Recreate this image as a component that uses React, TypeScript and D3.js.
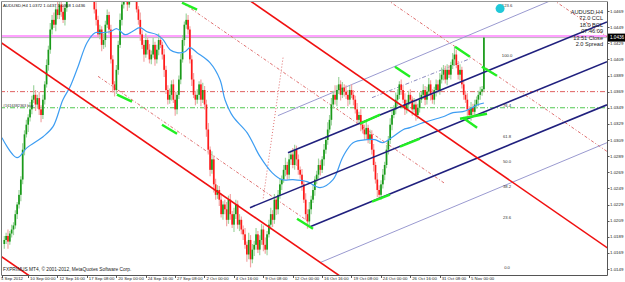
import React from 'react';
import * as d3 from 'd3';

const W = 625;
const H = 282;
const PLOT_R = 607;
const PLOT_B = 275;

// candle closes, in pips above 1.0000 (H4 bars, 5 Sep 16:00 .. 5 Nov)
const firstOpenPips = 180;
const closePips = [
  185,190,183,193,198, 203,217,229,241,260, 297,316,328,337,347, 359,365,353,361,347,
  340,359,378,402,421, 446,458,452,471,464, 477,468,458,473,489, 508,533,557,582,595,
  607,619,601,588,595, 570,557,533,508,471, 458,440,446,427,433, 452,464,446,409,378,
  371,396,427,458,477, 489,502,477,495,508, 514,495,471,458,440, 427,415,433,421,409,
  415,427,409,421,433, 427,415,396,371,359, 365,378,359,347,365, 384,409,433,452,458,
  446,409,384,365,359, 365,378,359,371,353, 322,297,272,285,254, 241,247,235,217,229,
  223,210,235,217,204, 217,229,204,210,198, 192,179,167,185,161, 173,179,192,173,185,
  198,179,173,192,204, 217,210,235,223,241, 254,260,272,278,266, 285,291,278,297,285,
  272,266,254,235,217, 208,223,235,247,260, 266,278,272,285,297, 309,322,334,353,365,
  359,371,378,365,374, 369,365,359,371,365, 359,347,334,340,328, 322,316,324,309,316,
  297,278,260,247,241, 254,266,278,297,309, 328,340,347,359,365, 378,371,359,347,353,
  365,359,347,353,340, 349,359,365,371,359, 369,378,365,359,371, 378,371,384,390,396,
  384,396,390,402,409, 415,402,390,396,378, 365,359,347,340,349, 344,353,359,365,369,
  372,436,
];
const upWick = [
  5,4,8,3,6,4,5,3,6,4, 8,5,6,4,9,5,12,6,4,8, 5,6,4,7,5,8,6,9,4,10, 6,5,8,4,6,5,7,4,6,5,
  8,4,6,5,7,4,5,6,4,5, 9,5,6,4,8,5,7,4,6,5, 4,6,5,8,5,10,6,4,7,5, 8,5,6,4,9,5,6,8,4,7,
  5,9,4,6,8,5,4,7,5,6, 8,5,6,10,4,5,7,6,4,8, 6,4,5,8,5,7,4,6,9,5, 6,8,4,10,5,7,6,5,8,4,
  6,9,5,7,4,8,6,5,7,4, 5,8,4,9,6,7,5,8,4,6, 7,5,9,4,6,8,5,7,4,6, 8,5,6,9,4,7,5,8,6,5,
  6,4,7,5,8,6,9,5,7,4, 5,8,6,4,7,5,9,6,8,5, 12,6,9,5,7,4,8,6,5,7, 6,5,8,4,7,5,6,9,4,6,
  5,7,4,8,6,5,7,4,6,5, 8,6,5,9,7,4,6,5,8,6, 5,7,4,8,6,5,9,4,7,5, 6,8,5,7,4,6,5,8,9,6,
  5,7,6,4,8,10,6,5,7,4, 6,5,8,4,7,5,6,4,5,6, 4,1,
];
const dnWick = [
  6,5,9,4,5,7,4,6,5,8, 6,7,4,9,5,6,4,8,5,7, 9,5,6,4,7,5,6,4,8,5, 5,6,4,7,5,8,4,6,5,7,
  6,5,7,4,6,5,8,4,6,5, 7,4,6,8,5,9,4,6,5,10, 8,5,6,4,7,5,6,8,4,6, 5,7,4,6,8,5,9,4,6,5,
  6,4,8,5,7,4,6,9,5,6, 5,7,4,8,6,5,6,4,7,5, 6,5,8,4,7,5,6,8,4,6, 9,6,8,5,10,6,5,8,4,7,
  6,8,5,7,4,9,6,5,8,6, 7,5,9,6,10,5,8,6,4,7, 6,8,5,7,4,6,9,5,7,6, 5,7,4,8,6,5,7,4,6,8,
  6,5,8,4,7,9,5,6,4,7, 6,5,7,4,8,5,6,4,7,5, 6,8,5,7,4,6,5,8,6,4, 7,5,6,4,8,5,7,6,4,5,
  6,8,5,9,4,6,5,7,4,6, 5,7,4,6,8,5,6,4,7,5, 6,5,8,4,7,5,6,4,5,7, 6,4,7,5,6,8,4,6,5,7,
  5,7,4,6,5,8,4,6,7,5, 6,4,8,5,7,4,6,5,8,6, 5,3,
];

// moving average (bar index, pips)
const maBars = [-1.3,6.9,12.4,21.1,26.5,31.9,35.8,40.1,45,49.4,52.1,57.5,61.3,65.7,69.5,73.8,77.7,83.1,86.4,90.2,94,98.3,101.1,104.9,111.9,117.4,120.1,124.5,132.1,139.2,145.7,151.1,157.1,164.7,171.8,178.9,184.3,189.8,197.4,201.7,206.1,211.5,217,220.8,227.9,238.8,244.2,249.6,254.5,257.3,261];
const maPips = [311.9,287.1,299.5,313.1,325.5,359,375.1,399.9,429.7,442.1,442.1,443.3,447,439.6,443.3,448.3,443.3,439.6,433.4,421,417.3,418.5,423.5,417.3,404.9,383.8,359,337.9,318.1,288.3,268.5,259.8,259.8,257.3,249.9,259.8,288.3,305.7,309.4,309.4,305.7,313.1,321.8,324.3,330.5,337.9,342.9,344.1,349.1,352.4,354.9];

// x axis labels
const xLabelText = ['5 Sep 2012','10 Sep 00:00','12 Sep 16:00','17 Sep 08:00','20 Sep 00:00','24 Sep 16:00','27 Sep 08:00','2 Oct 00:00','4 Oct 16:00','9 Oct 08:00','12 Oct 00:00','16 Oct 16:00','19 Oct 08:00','24 Oct 00:00','26 Oct 16:00','31 Oct 08:00','5 Nov 00:00'];
const xLabelBars = [0,14,30,46,62,78,94,110,126,142,158,174,190,206,222,238,254];
// y axis labels
const yTickLabels = ['1.0149','1.0169','1.0189','1.0209','1.0229','1.0249','1.0269','1.0289','1.0309','1.0329','1.0349','1.0369','1.0389','1.0409','1.0429','1.0449','1.0469'];

// pitchfork / trend lines: [[bar, price],[bar, price]]
const redSolidLines = [
  [[-5.1, 1.0435], [185.4, 1.0136]],
  [[131, 1.0486], [329.6, 1.0173]],
  [[-5.1, 1.0170], [14, 1.0140]],
];
const redDashLines = [
  [[94.5, 1.0483], [239.8, 1.0255]],
  [[51.0, 1.0388], [166.4, 1.02065]],
  [[208.3, 1.0483], [328, 1.02948]],
  [[298.6, 1.0483], [328, 1.04371]],
];
const redDotLines = [[[151.7, 1.04111], [140.8, 1.0235]]];
const navyLines = [
  [[154.4, 1.02933], [328, 1.04555]],
  [[133.7, 1.02251], [328, 1.04061]],
  [[166.4, 1.02015], [328, 1.03526]],
];
const lavenderLines = [
  [[148.9, 1.03392], [298.6, 1.0483]],
  [[171.8, 1.01569], [328, 1.03057]],
];
const blueDashLines = [[[200.1, 1.03615], [253.4, 1.04098]]];
const greenMarks = [
  [[96.7, 1.04793], [104.9, 1.04706]],
  [[61.3, 1.03652], [69.5, 1.03565]],
  [[85.8, 1.0328], [94, 1.03168]],
  [[212.6, 1.03999], [220.8, 1.03875]],
  [[245.3, 1.04247], [253.4, 1.04123]],
  [[259.9, 1.03999], [268.1, 1.03888]],
  [[193.6, 1.03292], [204.5, 1.03404]],
  [[248, 1.03354], [262.7, 1.03416]],
  [[249.6, 1.03367], [257.3, 1.03243]],
  [[159.3, 1.02114], [168, 1.0199]],
  [[200.1, 1.02325], [209.9, 1.02412]],
  [[215.3, 1.03007], [226.2, 1.03106]],
];

// horizontal lines
const alertLevel = 1.0438;
const bidLevel = 1.0436;
const redLevel = 1.0369;
const greenLevel = 1.0349;

// fibonacci labels
const fibLow = 1.01507;
const fibHigh = 1.04136;
const fibLevels = [0, 23.6, 38.2, 50, 61.8, 76.4, 100, 123.6];
const fibLabelBar = 273.6;
const fibMarker = [269.8, 1.0472];

const infoLines = ['AUDUSD,H4', '72.0 CCL', '18.0 BCL', '07:46:09', '13:51 Close', '2.0 Spread'];
const FONT = '"Liberation Sans", Arial, sans-serif';

export default function App() {
  const x = d3.scaleLinear().domain([0, 261]).range([4.3, 483.9]);
  const y = d3.scaleLinear().domain([1.0149, 1.0469]).range([269, 11]);
  const P = (pips: number) => 1 + pips / 10000;

  const candles = closePips.map((c, i) => {
    const o = i === 0 ? firstOpenPips : closePips[i - 1];
    const hi = Math.max(o, c) + upWick[i];
    const lo = Math.min(o, c) - dnWick[i];
    return { i, o: P(o), c: P(c), h: P(hi), l: P(lo), up: c >= o };
  });

  const seg = (s: number[][]) => ({ x1: x(s[0][0]), y1: y(s[0][1]), x2: x(s[1][0]), y2: y(s[1][1]) });

  const maLine = d3.line<number>()
    .x((_, k) => x(maBars[k]))
    .y((d) => y(P(d)))
    .curve(d3.curveCatmullRom)(maPips) as string;

  const yTickVals = yTickLabels.map((t) => +t);

  return (
    <svg width={W} height={H} style={{ position: 'absolute', left: 0, top: 0, background: '#fff' }} fontFamily={FONT}>
      <defs>
        <clipPath id="plot">
          <rect x={2} y={2} width={PLOT_R - 2} height={PLOT_B - 2} />
        </clipPath>
      </defs>
      <rect x={0} y={0} width={W} height={H} fill="#fff" />
      <g clipPath="url(#plot)">
        <line x1={0} x2={PLOT_R} y1={y(redLevel)} y2={y(redLevel)} stroke="#e06060" strokeWidth={1} strokeDasharray="5,2,1,2" />
        <line x1={0} x2={PLOT_R} y1={y(greenLevel)} y2={y(greenLevel)} stroke="#50c850" strokeWidth={1} strokeDasharray="5,2,1,2" />
        <line x1={0} x2={PLOT_R} y1={y(bidLevel)} y2={y(bidLevel)} stroke="#b8b8b8" strokeWidth={1} />
        <line x1={0} x2={PLOT_R} y1={y(alertLevel)} y2={y(alertLevel)} stroke="#ff44ff" strokeWidth={1.2} />

        {redDashLines.map((s, k) => (
          <line key={'rd' + k} {...seg(s)} stroke="#e07070" strokeWidth={1} strokeDasharray="3,2,1,2" />
        ))}
        {redDotLines.map((s, k) => (
          <line key={'rt' + k} {...seg(s)} stroke="#e07070" strokeWidth={1} strokeDasharray="1,2" />
        ))}
        {lavenderLines.map((s, k) => (
          <line key={'lv' + k} {...seg(s)} stroke="#9a9ad0" strokeWidth={1} />
        ))}
        {blueDashLines.map((s, k) => (
          <line key={'bd' + k} {...seg(s)} stroke="#8c8cc0" strokeWidth={1} strokeDasharray="4,2,1,2" />
        ))}

        {candles.map((d) => (
          <g key={d.i}>
            <line x1={x(d.i)} x2={x(d.i)} y1={y(d.h)} y2={y(d.l)} stroke={d.up ? '#9fd49f' : '#f3a5a5'} strokeWidth={1.2} />
            <rect x={x(d.i) - 0.85} width={1.7} y={Math.min(y(d.o), y(d.c))} height={Math.max(0.8, Math.abs(y(d.o) - y(d.c)))} fill={d.up ? '#1a9a1a' : '#ff1a1a'} />
          </g>
        ))}

        <path d={maLine} fill="none" stroke="#3d9df2" strokeWidth={1.2} />

        {navyLines.map((s, k) => (
          <line key={'nv' + k} {...seg(s)} stroke="#20207e" strokeWidth={1.6} />
        ))}
        {redSolidLines.map((s, k) => (
          <line key={'rs' + k} {...seg(s)} stroke="#f01010" strokeWidth={1.6} />
        ))}
        {greenMarks.map((s, k) => (
          <line key={'gm' + k} {...seg(s)} stroke="#22ee22" strokeWidth={2.4} />
        ))}

        {fibLevels.map((f) => (
          <text key={'fb' + f} x={x(fibLabelBar)} y={y(fibLow + (fibHigh - fibLow) * f / 100) + 1.5} fontSize={4.2} textAnchor="middle" fill="#333">
            {f.toFixed(1)}
          </text>
        ))}
        <circle cx={x(fibMarker[0])} cy={y(fibMarker[1])} r={4.5} fill="#20c8d8" />

        <text x={3} y={6.5} fontSize={4.3} fill="#111">AUDUSD,H4  1.0372 1.0437 1.0368 1.0436</text>
        <text x={3} y={106.5} fontSize={3.8} fill="#333">#1616382363 buy</text>
        <text x={3} y={270.5} fontSize={4.8} fill="#222">FXPRIMUS MT4, © 2001-2012, MetaQuotes Software Corp.</text>
        {infoLines.map((t, k) => (
          <text key={t} x={603} y={14 + k * 6.4} fontSize={5.6} textAnchor="end" fill="#222">{t}</text>
        ))}
      </g>

      <line x1={1.5} x2={PLOT_R} y1={1.5} y2={1.5} stroke="#999" />
      <line x1={1.5} x2={1.5} y1={1.5} y2={PLOT_B} stroke="#777" />
      <line x1={1.5} x2={PLOT_R + 0.5} y1={PLOT_B + 0.5} y2={PLOT_B + 0.5} stroke="#555" />
      <line x1={PLOT_R + 0.5} x2={PLOT_R + 0.5} y1={1.5} y2={PLOT_B + 0.5} stroke="#555" />

      {yTickVals.map((v, k) => (
        <g key={'yt' + k}>
          <line x1={PLOT_R} x2={PLOT_R + 2.5} y1={Math.round(y(v)) + 0.5} y2={Math.round(y(v)) + 0.5} stroke="#555" />
          <text x={PLOT_R + 3} y={y(v) + 1.5} fontSize={4.4} fill="#222">{yTickLabels[k]}</text>
        </g>
      ))}
      <rect x={PLOT_R + 1} y={y(bidLevel) - 4} width={W - PLOT_R - 1} height={8} fill="#000" />
      <text x={PLOT_R + 3} y={y(bidLevel) + 1.6} fontSize={4.6} fill="#fff">1.0436</text>

      {xLabelBars.map((b, k) => (
        <g key={'xt' + k}>
          <line x1={Math.round(x(b)) - 1.5} x2={Math.round(x(b)) - 1.5} y1={PLOT_B} y2={PLOT_B + 3} stroke="#555" />
          <text x={k === 0 ? 1 : x(b)} y={280} fontSize={4.3} fill="#222">{xLabelText[k]}</text>
        </g>
      ))}
    </svg>
  );
}
